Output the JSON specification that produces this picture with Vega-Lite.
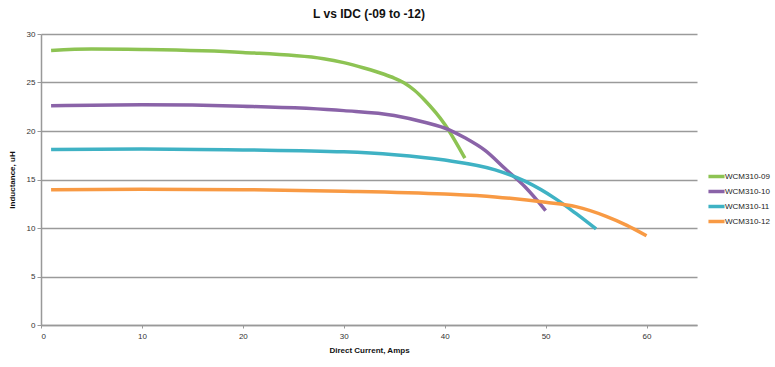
{
  "$schema": "https://vega.github.io/schema/vega-lite/v6.json",
  "width": 656,
  "height": 291,
  "autosize": {"type": "none"},
  "padding": {"left": 41, "top": 34, "right": 78, "bottom": 42},
  "background": "white",
  "title": {"text": "L vs IDC (-09 to -12)", "font": "Liberation Sans", "fontSize": 12, "fontWeight": "bold", "color": "#111", "anchor": "middle", "offset": 9},
  "data": {"values": [
    {"s": "WCM310-09", "x": 1, "y": 28.3},
    {"s": "WCM310-09", "x": 5, "y": 28.45},
    {"s": "WCM310-09", "x": 10, "y": 28.4},
    {"s": "WCM310-09", "x": 20, "y": 28.1},
    {"s": "WCM310-09", "x": 28, "y": 27.45},
    {"s": "WCM310-09", "x": 30, "y": 27.05},
    {"s": "WCM310-09", "x": 32, "y": 26.5},
    {"s": "WCM310-09", "x": 34, "y": 25.85},
    {"s": "WCM310-09", "x": 35, "y": 25.45},
    {"s": "WCM310-09", "x": 36, "y": 24.95},
    {"s": "WCM310-09", "x": 37, "y": 24.2},
    {"s": "WCM310-09", "x": 38, "y": 23.2},
    {"s": "WCM310-09", "x": 40, "y": 20.7},
    {"s": "WCM310-09", "x": 42, "y": 17.2},
    {"s": "WCM310-10", "x": 1, "y": 22.6},
    {"s": "WCM310-10", "x": 10, "y": 22.7},
    {"s": "WCM310-10", "x": 20, "y": 22.55},
    {"s": "WCM310-10", "x": 30, "y": 22.1},
    {"s": "WCM310-10", "x": 35, "y": 21.6},
    {"s": "WCM310-10", "x": 38, "y": 20.9},
    {"s": "WCM310-10", "x": 40.5, "y": 20.1},
    {"s": "WCM310-10", "x": 42, "y": 19.3},
    {"s": "WCM310-10", "x": 44, "y": 18.0},
    {"s": "WCM310-10", "x": 46, "y": 16.1},
    {"s": "WCM310-10", "x": 48, "y": 14.2},
    {"s": "WCM310-10", "x": 50, "y": 11.8},
    {"s": "WCM310-11", "x": 1, "y": 18.1},
    {"s": "WCM310-11", "x": 10, "y": 18.15},
    {"s": "WCM310-11", "x": 20, "y": 18.05},
    {"s": "WCM310-11", "x": 30, "y": 17.85},
    {"s": "WCM310-11", "x": 35, "y": 17.55},
    {"s": "WCM310-11", "x": 40, "y": 17.0},
    {"s": "WCM310-11", "x": 45, "y": 16.0},
    {"s": "WCM310-11", "x": 48, "y": 14.8},
    {"s": "WCM310-11", "x": 51, "y": 13.0},
    {"s": "WCM310-11", "x": 53, "y": 11.5},
    {"s": "WCM310-11", "x": 55, "y": 9.9},
    {"s": "WCM310-12", "x": 1, "y": 13.95},
    {"s": "WCM310-12", "x": 10, "y": 14.0},
    {"s": "WCM310-12", "x": 20, "y": 13.95},
    {"s": "WCM310-12", "x": 30, "y": 13.8},
    {"s": "WCM310-12", "x": 40, "y": 13.5},
    {"s": "WCM310-12", "x": 45, "y": 13.2},
    {"s": "WCM310-12", "x": 50, "y": 12.65},
    {"s": "WCM310-12", "x": 53, "y": 12.2},
    {"s": "WCM310-12", "x": 56, "y": 11.2},
    {"s": "WCM310-12", "x": 58, "y": 10.3},
    {"s": "WCM310-12", "x": 60, "y": 9.2}
  ]},
  "mark": {"type": "line", "strokeWidth": 3.5, "interpolate": "monotone", "strokeCap": "butt"},
  "encoding": {
    "x": {"field": "x", "type": "quantitative", "scale": {"domain": [0, 65], "nice": false},
      "axis": {"values": [0, 10, 20, 30, 40, 50, 60], "title": "Direct Current, Amps", "grid": false, "tickSize": 3, "tickColor": "#999", "domainColor": "#999", "domainWidth": 1.5, "labelFont": "Liberation Sans", "labelFontSize": 8, "labelColor": "#333", "labelPadding": 4, "titleFont": "Liberation Sans", "titleFontSize": 8, "titleFontWeight": "bold", "titleColor": "#111", "titlePadding": 6}},
    "y": {"field": "y", "type": "quantitative", "scale": {"domain": [0, 30], "nice": false},
      "axis": {"values": [0, 5, 10, 15, 20, 25, 30], "title": "Inductance, uH", "grid": true, "gridColor": "#9a9a9a", "gridWidth": 1.5, "tickSize": 4, "tickColor": "#999", "domainColor": "#999", "domainWidth": 1.5, "labelFont": "Liberation Sans", "labelFontSize": 8, "labelColor": "#333", "labelPadding": 2, "titleFont": "Liberation Sans", "titleFontSize": 8, "titleFontWeight": "bold", "titleColor": "#111", "titlePadding": 10}},
    "color": {"field": "s", "type": "nominal", "title": null,
      "scale": {"domain": ["WCM310-09", "WCM310-10", "WCM310-11", "WCM310-12"], "range": ["#8DC353", "#8A63A8", "#3FB2C4", "#F89A44"]},
      "legend": {"orient": "none", "legendX": 670, "legendY": 137, "symbolType": "M-2.3,0H2.3", "symbolStrokeWidth": 3.5, "symbolSize": 49, "labelFont": "Liberation Sans", "labelFontSize": 8, "labelColor": "#222", "labelOffset": 3, "rowPadding": 0, "padding": 0}}
  },
  "config": {"view": {"stroke": null}}
}
